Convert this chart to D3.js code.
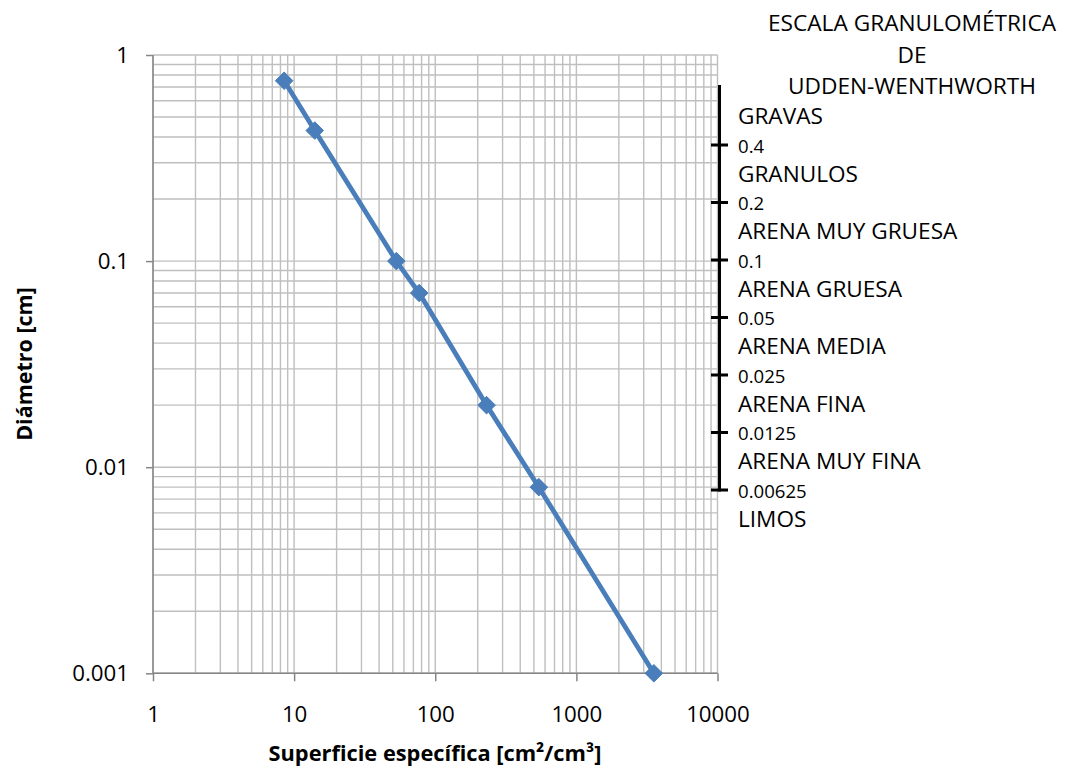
<!DOCTYPE html>
<html>
<head>
<meta charset="utf-8">
<script src="https://cdn.jsdelivr.net/npm/d3@7"></script>
<style>
  body { margin: 0; background: #fff; }
  svg { display: block; }
  text { font-family: "Open Sans", sans-serif; fill: #000; }
</style>
</head>
<body>
<svg id="chart" width="1074" height="780"></svg>
<script>
// ---- data ----
const surface = [8.5, 14, 53, 77, 231, 542, 3540];          // cm2/cm3
const diameter = [0.75, 0.43, 0.1, 0.07, 0.02, 0.008, 0.001]; // cm
const xTicks = [1, 10, 100, 1000, 10000];
const yTicks = [0.001, 0.01, 0.1, 1];
const scaleLimits = ["0.4", "0.2", "0.1", "0.05", "0.025", "0.0125", "0.00625"];
const scaleClasses = ["GRAVAS", "GRANULOS", "ARENA MUY GRUESA", "ARENA GRUESA", "ARENA MEDIA", "ARENA FINA", "ARENA MUY FINA", "LIMOS"];
const titleLines = ["ESCALA GRANULOMÉTRICA", "DE", "UDDEN-WENTHWORTH"];
const xTitle = "Superficie específica [cm²/cm³]";
const yTitle = "Diámetro [cm]";

const svg = d3.select("#chart");
const L = 153, R = 717.5, T = 55, B = 673.3;
const x = d3.scaleLog().domain([1, 10000]).range([L, R]);
const y = d3.scaleLog().domain([0.001, 1]).range([B, T]);

// grid values (major + minor)
function logGrid(lo, hi) {
  const out = [];
  for (let p = lo; p < hi; p *= 10) for (let k = 1; k < 10; k++) out.push(p * k);
  out.push(hi);
  return out;
}
const gx = logGrid(1, 10000), gy = logGrid(0.001, 1);
const grid = svg.append("g").attr("stroke", "#bfbfbf").attr("stroke-width", 1.4);
grid.selectAll("line.v").data(gx).join("line").attr("class", "v")
  .attr("x1", d => x(d)).attr("x2", d => x(d)).attr("y1", T).attr("y2", B);
grid.selectAll("line.h").data(gy).join("line").attr("class", "h")
  .attr("x1", L).attr("x2", R).attr("y1", d => y(d)).attr("y2", d => y(d));

// axes
const fmt = d => String(d);
const ax = svg.append("g").attr("transform", `translate(0,${B})`)
  .call(d3.axisBottom(x).tickValues(xTicks).tickFormat(fmt).tickSize(8).tickPadding(25));
const ay = svg.append("g").attr("transform", `translate(${L},0)`)
  .call(d3.axisLeft(y).tickValues(yTicks).tickFormat(fmt).tickSize(7).tickPadding(17));
[ax, ay].forEach(g => {
  g.select(".domain").attr("stroke", "#868686").attr("stroke-width", 1.5);
  g.selectAll(".tick line").attr("stroke", "#868686").attr("stroke-width", 1.5);
  g.selectAll(".tick text").attr("font-size", 22.3).attr("font-family", "Open Sans").attr("fill", "#000");
});
ax.select(".domain").attr("d", `M${L},0H${R}`);
ay.select(".domain").attr("d", `M0,${B}V${T}`);

// series line + markers
const color = "#4a7ebb";
const pts = surface.map((s, i) => [s, diameter[i]]);
svg.append("path").datum(pts)
  .attr("fill", "none").attr("stroke", color).attr("stroke-width", 4.8).attr("stroke-linejoin", "round")
  .attr("d", d3.line().x(d => x(d[0])).y(d => y(d[1])));
svg.selectAll("path.mk").data(pts).join("path").attr("class", "mk")
  .attr("transform", d => `translate(${x(d[0])},${y(d[1])})`)
  .attr("d", "M0,-8.8L8.8,0L0,8.8L-8.8,0Z")
  .attr("fill", color).attr("stroke", color).attr("stroke-width", 1);

// axis titles
svg.append("text").attr("x", 435).attr("y", 753).attr("dy", "0.35em")
  .attr("text-anchor", "middle").attr("font-weight", "bold").attr("font-size", 21.8).text(xTitle);
svg.append("text").attr("transform", "translate(24,364) rotate(-90)").attr("dy", "0.35em")
  .attr("text-anchor", "middle").attr("font-weight", "bold").attr("font-size", 21.5).text(yTitle);

// Udden-Wentworth scale bar
const barX = 719.5;
const s = d3.scaleLinear().domain([0, scaleLimits.length - 1]).range([145, 490]);
const sg = svg.append("g");
sg.append("line").attr("x1", barX).attr("x2", barX).attr("y1", 85).attr("y2", s(scaleLimits.length - 1) + 1.5)
  .attr("stroke", "#000").attr("stroke-width", 3);
sg.selectAll("line.t").data(scaleLimits).join("line").attr("class", "t")
  .attr("x1", barX - 8.5).attr("x2", barX + 8.5)
  .attr("y1", (d, i) => s(i)).attr("y2", (d, i) => s(i))
  .attr("stroke", "#000").attr("stroke-width", 3);
sg.selectAll("text.lim").data(scaleLimits).join("text").attr("class", "lim")
  .attr("x", 738).attr("y", (d, i) => s(i) + 1).attr("dy", "0.35em")
  .attr("font-size", 18.6).text(d => d);
sg.selectAll("text.cls").data(scaleClasses).join("text").attr("class", "cls")
  .attr("x", 738).attr("y", (d, i) => s(i - 0.5)).attr("dy", "0.35em")
  .attr("font-size", 22.6).text(d => d);
sg.selectAll("text.ttl").data(titleLines).join("text").attr("class", "ttl")
  .attr("x", 912).attr("y", (d, i) => 23.5 + i * 31.3).attr("dy", "0.35em")
  .attr("text-anchor", "middle").attr("font-size", 22.7).text(d => d);
</script>
</body>
</html>
